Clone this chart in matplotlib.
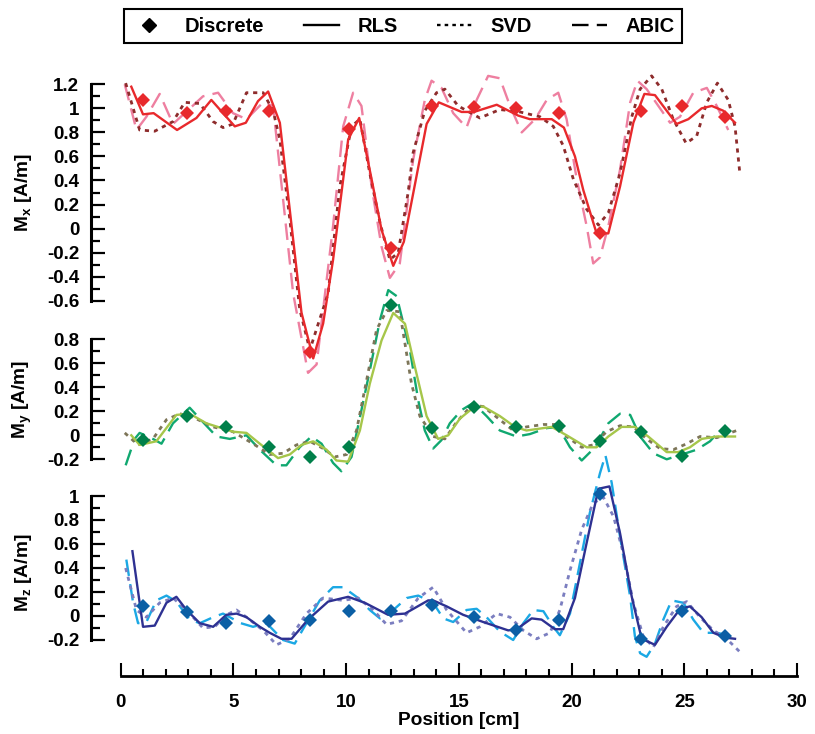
import numpy as np
import matplotlib
matplotlib.use('Agg')
import matplotlib.pyplot as plt
from matplotlib.ticker import FixedLocator
from matplotlib.lines import Line2D

plt.rcParams['font.family'] = ['Liberation Sans', 'DejaVu Sans']
plt.rcParams['font.weight'] = 'bold'
plt.rcParams['mathtext.fontset'] = 'custom'
plt.rcParams['mathtext.rm'] = 'Liberation Sans:bold'
plt.rcParams['mathtext.bf'] = 'Liberation Sans:bold'
plt.rcParams['mathtext.it'] = 'Liberation Sans:bold'
plt.rcParams['mathtext.default'] = 'bf'

# ---------------- data ----------------
disc_x = [0.99, 2.92, 4.69, 6.56, 8.39, 10.12, 11.97, 13.82, 15.67, 17.55, 19.43, 21.27, 23.07, 24.89, 26.81]
mx_disc = [1.07, 0.96, 0.98, 0.98, -1.03, 0.83, -0.16, 1.02, 1.01, 1.0, 0.96, -0.04, 0.98, 1.02, 0.93]
my_disc = [-0.04, 0.16, 0.07, -0.10, -0.18, -0.10, 1.09, 0.06, 0.24, 0.07, 0.08, -0.05, 0.03, -0.17, 0.04]
mz_disc = [0.08, 0.03, -0.06, -0.04, -0.03, 0.04, 0.04, 0.09, -0.01, -0.12, -0.03, 1.02, -0.19, 0.04, -0.17]

mx_rls_x = [0.47, 0.99, 1.46, 2.5, 3.36, 4.02, 5.06, 5.55, 6.09, 6.54, 7.06, 8.02, 8.54, 8.98, 9.42, 10.09, 10.58,
            11.13, 11.57, 12.09, 12.56, 13.57, 14.11, 15.12, 15.67, 16.68, 17.63, 18.15, 19.12, 19.66, 20.15,
            20.52, 21.11, 21.63, 22.15, 22.74, 23.23, 23.7, 24.66, 25.18, 25.77, 26.22, 26.73, 27.25]
mx_rls_y = [1.18, 0.95, 0.96, 0.82, 0.92, 1.07, 0.85, 0.88, 1.06, 1.14, 0.88, -0.70, -1.08, -0.79, -0.26, 0.74, 0.92,
            0.41, -0.01, -0.31, -0.11, 0.87, 1.05, 0.97, 0.97, 1.03, 0.94, 0.91, 0.91, 0.84, 0.60,
            0.32, -0.04, -0.04, 0.35, 0.88, 1.12, 1.11, 0.87, 0.91, 1.0, 1.02, 0.98, 0.88]
mx_svd_x = [0.22, 0.84, 1.51, 2.32, 2.84, 3.51, 4.1, 4.54, 4.98, 5.58, 6.32, 6.76, 7.06, 7.5, 7.94, 8.39, 8.8, 9.2,
            9.72, 10.24, 10.61, 11.05, 11.5, 11.94, 12.31, 12.75, 12.97, 13.49, 14.01, 14.38, 14.97, 15.93, 16.82,
            17.71, 18.6, 19.19, 19.63, 20.08, 20.67, 21.19, 21.63, 22.15, 22.67, 23.04, 23.55, 24.0, 24.51, 25.08,
            25.55, 26.0, 26.47, 26.95, 27.25, 27.47]
mx_svd_y = [1.21, 0.82, 0.81, 0.89, 1.05, 1.04, 0.89, 0.84, 0.87, 1.13, 1.13, 0.98, 0.74, 0.08, -0.67, -1.01, -0.77,
            -0.54, 0.35, 0.85, 0.91, 0.46, 0.05, -0.26, -0.20, 0.30, 0.63, 0.98, 1.13, 1.16, 1.02, 0.92, 0.99,
            0.97, 0.93, 0.85, 0.69, 0.41, 0.16, 0.03, 0.13, 0.46, 0.93, 1.16, 1.27, 1.16, 0.91, 0.71,
            0.77, 1.05, 1.21, 1.07, 0.85, 0.45]
mx_abic_x = [0.18, 0.7, 1.14, 1.73, 2.32, 3.65, 4.32, 4.98, 5.58, 6.32, 6.76, 7.65, 8.31, 8.69, 9.42, 9.87, 10.31,
             10.68, 11.13, 11.57, 11.94, 12.38, 12.97, 13.49, 13.79, 14.23, 14.75, 15.34, 15.79, 16.3, 16.82,
             17.27, 17.79, 18.38, 18.9, 19.41, 19.78, 20.23, 20.67, 20.96, 21.26, 21.63, 22.15, 22.6, 22.92,
             23.33, 23.85, 24.37, 24.81, 25.4, 26.0, 26.44, 26.95]
mx_abic_y = [1.2, 0.82, 0.93, 1.12, 0.87, 1.1, 1.13, 0.96, 0.91, 1.05, 1.02, -0.54, -1.2, -1.13, 0.02, 0.85, 1.13,
             1.02, 0.35, -0.15, -0.41, -0.29, 0.57, 1.07, 1.23, 1.17, 0.96, 0.84, 1.07, 1.27, 1.25,
             1.02, 0.8, 0.91, 1.07, 1.13, 0.91, 0.41, 0.02, -0.29, -0.24, 0.02, 0.49, 1.05, 1.23,
             1.16, 1.02, 0.88, 0.93, 1.13, 1.17, 1.02, 0.82]

my_rls_x = [0.47, 0.84, 1.58, 2.47, 3.06, 3.8, 4.98, 5.58, 6.17, 6.98, 7.5, 8.02, 8.54, 9.13, 9.57, 10.09, 10.61,
            11.05, 11.57, 12.09, 12.61, 13.05, 13.57, 14.08, 14.53, 15.05, 15.64, 16.08, 16.82, 17.49, 18.0,
            19.12, 19.78, 20.67, 21.11, 21.63, 22.22, 22.81, 23.4, 24.22, 24.73, 25.25, 25.77, 26.44, 27.25]
my_rls_y = [0.0, -0.08, -0.05, 0.17, 0.18, 0.10, 0.03, 0.02, -0.07, -0.19, -0.16, -0.08, -0.05, -0.12, -0.21, -0.22,
            0.04, 0.43, 0.79, 1.02, 0.93, 0.57, 0.16, -0.03, 0.0, 0.14, 0.23, 0.24, 0.16, 0.07, 0.04,
            0.07, 0.0, -0.10, -0.10, -0.01, 0.07, 0.07, -0.01, -0.14, -0.14, -0.10, -0.03, -0.01, -0.01]
my_svd_x = [0.18, 0.77, 1.43, 2.03, 2.62, 3.21, 4.1, 4.98, 5.87, 6.61, 7.2, 7.8, 8.39, 8.98, 9.5, 10.02, 10.46,
            10.91, 11.35, 11.8, 12.38, 12.9, 13.27, 13.86, 14.38, 14.9, 15.57, 16.08, 16.82, 17.41, 18.0, 18.75,
            19.26, 19.78, 20.45, 20.96, 21.55, 22.15, 22.74, 23.33, 23.92, 24.51, 25.11, 25.7, 26.44, 27.33]
my_svd_y = [0.02, -0.08, -0.03, 0.13, 0.18, 0.15, 0.07, 0.03, -0.07, -0.16, -0.15, -0.08, -0.05, -0.11, -0.18,
            -0.16, 0.04, 0.46, 0.88, 1.04, 1.03, 0.43, 0.16, -0.01, -0.03, 0.11, 0.25, 0.24, 0.13, 0.04, 0.07,
            0.09, 0.09, -0.01, -0.10, -0.08, 0.03, 0.08, 0.07, -0.03, -0.11, -0.12, -0.07, -0.01, -0.02, 0.04]
my_abic_x = [0.22, 0.62, 0.84, 1.43, 1.81, 2.32, 3.06, 3.65, 4.25, 4.84, 5.58, 6.17, 6.91, 7.35, 7.94, 8.46, 8.91,
             9.42, 9.79, 10.24, 11.05, 11.5, 11.87, 12.24, 12.83, 13.2, 13.49, 13.86, 14.23, 14.6, 15.12, 15.64,
             16.23, 16.82, 17.56, 18.15, 18.9, 19.41, 19.93, 20.45, 21.04, 21.63, 22.15, 22.6, 23.04, 23.63,
             24.22, 24.89, 25.55, 26.14, 26.58]
my_abic_y = [-0.25, -0.03, 0.02, -0.03, -0.07, 0.10, 0.23, 0.11, -0.01, -0.03, 0.0, -0.12, -0.25, -0.25, -0.10,
             -0.01, -0.07, -0.23, -0.30, -0.18, 0.54, 0.96, 1.21, 1.16, 0.71, 0.29, 0.04, -0.11, -0.04, 0.10,
             0.21, 0.27, 0.16, 0.04, -0.01, 0.01, 0.06, 0.07, -0.10, -0.21, -0.10, 0.10, 0.18, 0.17, -0.01,
             -0.15, -0.20, -0.16, -0.12, -0.05, 0.04]

mz_rls_x = [0.52, 0.99, 1.51, 2.03, 2.47, 2.92, 3.51, 4.1, 4.69, 5.14, 5.58, 6.17, 6.61, 7.13, 7.58, 8.31, 9.2,
            10.09, 10.83, 11.86, 12.61, 13.64, 13.86, 14.46, 15.19, 16.08, 17.19, 17.56, 18.23, 18.67, 19.26,
            19.63, 20.15, 20.67, 21.19, 21.68, 22.15, 22.67, 23.11, 23.7, 24.22, 24.82, 25.25, 25.77, 26.29,
            26.81, 27.25]
mz_rls_y = [0.54, -0.09, -0.08, 0.11, 0.16, 0.05, -0.06, -0.09, 0.01, 0.02, -0.01, -0.09, -0.14, -0.19, -0.19,
            -0.03, 0.12, 0.16, 0.11, 0.01, 0.02, 0.13, 0.13, 0.08, 0.01, -0.05, -0.12, -0.11, -0.02, -0.03,
            -0.11, -0.11, 0.15, 0.61, 1.06, 1.08, 0.69, 0.16, -0.19, -0.24, -0.09, 0.06, 0.08, -0.01, -0.14,
            -0.18, -0.19]
mz_svd_x = [0.22, 0.7, 1.14, 1.73, 2.32, 2.92, 3.65, 4.17, 4.69, 5.14, 5.58, 6.32, 6.91, 7.5, 8.24, 8.98, 9.87,
            10.53, 11.2, 11.79, 12.46, 13.2, 13.86, 14.46, 15.34, 15.93, 16.68, 17.27, 17.86, 18.45, 19.04,
            19.48, 19.93, 20.45, 20.96, 21.41, 21.86, 22.3, 22.74, 23.18, 23.63, 24.07, 24.66, 25.11, 25.7,
            26.29, 26.88, 27.47]
mz_svd_y = [0.40, 0.05, -0.01, 0.11, 0.15, 0.05, -0.10, -0.09, 0.01, 0.05, -0.01, -0.12, -0.24, -0.19, 0.02,
            0.15, 0.13, 0.15, 0.05, -0.07, -0.04, 0.15, 0.24, 0.05, -0.14, -0.09, 0.02, -0.01, -0.12, -0.19,
            -0.14, 0.05, 0.38, 0.72, 0.94, 0.99, 0.83, 0.52, 0.11, -0.17, -0.26, -0.09, 0.08, 0.12, -0.01,
            -0.12, -0.19, -0.30]
mz_abic_x = [0.25, 0.55, 0.77, 1.14, 1.58, 2.03, 2.47, 3.06, 3.51, 4.1, 4.54, 5.33, 5.87, 6.47, 7.2, 7.72, 8.24,
             8.83, 9.42, 9.87, 10.53, 11.05, 11.5, 12.09, 12.69, 13.2, 13.86, 14.31, 14.75, 15.34, 15.79, 16.23,
             16.82, 17.41, 17.86, 18.3, 18.75, 19.19, 19.48, 19.93, 20.37, 20.81, 21.26, 21.5, 21.78, 22.15,
             22.6, 22.81, 23.04, 23.33, 23.7, 24.07, 24.44, 24.96, 25.4, 25.85, 26.44, 26.95]
mz_abic_y = [0.47, 0.11, -0.06, -0.05, 0.13, 0.17, 0.12, -0.03, -0.06, -0.01, 0.02, -0.06, -0.09, -0.06, -0.20,
             -0.23, -0.06, 0.13, 0.24, 0.24, 0.15, 0.05, -0.02, 0.05, 0.15, 0.17, 0.11, -0.02, -0.05, 0.05, 0.06,
             -0.01, -0.13, -0.20, -0.06, 0.05, 0.04, -0.09, -0.16, 0.02, 0.44, 0.86, 1.19, 1.34, 1.11, 0.66,
             0.16, -0.17, -0.31, -0.34, -0.23, -0.03, 0.13, 0.11, -0.03, -0.14, -0.14, -0.16]

mx_ticks = [-0.6, -0.4, -0.2, 0, 0.2, 0.4, 0.6, 0.8, 1, 1.2]
mx_tick_labels = ['-0.6', '-0.4', '-0.2', '0', '0.2', '0.4', '0.6', '0.8', '1', '1.2']
my_ticks = [-0.2, 0, 0.2, 0.4, 0.6, 0.8]
my_tick_labels = ['-0.2', '0', '0.2', '0.4', '0.6', '0.8']
mz_ticks = [-0.2, 0, 0.2, 0.4, 0.6, 0.8, 1]
mz_tick_labels = ['-0.2', '0', '0.2', '0.4', '0.6', '0.8', '1']
x_ticks = [0, 5, 10, 15, 20, 25, 30]
x_tick_labels = ['0', '5', '10', '15', '20', '25', '30']

legend_labels = ['Discrete', 'RLS', 'SVD', 'ABIC']

# ---------------- layout ----------------
W, H = 815.0, 734.0
fig = plt.figure(figsize=(W / 100, H / 100), dpi=100)
X0_PX, X30_PX, SPINE_PX = 120.7, 797.0, 91.0
ppcm = (X30_PX - X0_PX) / 30.0
XLIM = ((SPINE_PX - X0_PX) / ppcm, 30.0)
LEFT = SPINE_PX / W
WIDTH = (X30_PX - SPINE_PX) / W

LW = 1.7
DOT = (1.5, 1.75)
DASH = (7.0, 3.5)
TICKFS = 13.5
LABFS = 13.8


def make_ax(top_px, bottom_px, ylim, bounds, ticks, labels, ylabel, label_y):
    ax = fig.add_axes([LEFT, 1 - bottom_px / H, WIDTH, (bottom_px - top_px) / H])
    ax.patch.set_visible(False)
    ax.set_xlim(*XLIM)
    ax.set_ylim(*ylim)
    for s in ['top', 'right']:
        ax.spines[s].set_visible(False)
    ax.spines['left'].set_linewidth(2.2)
    ax.spines['left'].set_bounds(*bounds)
    ax.yaxis.set_major_locator(FixedLocator(ticks))
    ax.set_yticklabels(labels, fontsize=TICKFS, fontweight='bold')
    ax.yaxis.set_minor_locator(FixedLocator(np.round(np.arange(bounds[0], bounds[1] + 0.001, 0.1), 2)))
    ax.tick_params(axis='y', which='major', direction='in', length=10, width=1.6, pad=8.5)
    ax.tick_params(axis='y', which='minor', direction='in', length=6.5, width=1.6)
    ax.set_ylabel(ylabel, fontsize=LABFS, fontweight='bold')
    ax.yaxis.set_label_coords(-0.0807, label_y)
    return ax


ax_x = make_ax(84.3, 300.7, (-0.6, 1.2), (-0.6, 1.2), mx_ticks, mx_tick_labels, r'M$_\mathbf{x}$ [A/m]', 0.5)
ax_y = make_ax(339.3, 459.3, (-0.2, 0.8), (-0.2, 0.8), my_ticks, my_tick_labels, r'M$_\mathbf{y}$ [A/m]', 0.5)
ax_z = make_ax(496.0, 676.0, (-0.5, 1.0), (-0.2, 1.0), mz_ticks, mz_tick_labels, r'M$_\mathbf{z}$ [A/m]', 0.572)

for ax in (ax_x, ax_y):
    ax.spines['bottom'].set_visible(False)
    ax.tick_params(axis='x', which='both', bottom=False, labelbottom=False)

ax_z.spines['bottom'].set_linewidth(2.0)
ax_z.spines['bottom'].set_bounds(0, 30)
ax_z.xaxis.set_major_locator(FixedLocator(x_ticks))
ax_z.set_xticklabels(x_tick_labels, fontsize=TICKFS, fontweight='bold')
ax_z.xaxis.set_minor_locator(FixedLocator(list(range(0, 31))))
ax_z.tick_params(axis='x', which='major', direction='in', length=9.5, width=1.5, pad=13)
ax_z.tick_params(axis='x', which='minor', direction='in', length=5, width=1.5)
ax_z.set_xlabel('Position [cm]', fontsize=LABFS, fontweight='bold')
ax_z.xaxis.set_label_coords((458.5 - SPINE_PX) / (X30_PX - SPINE_PX), -0.202)

series = [
    (ax_x, mx_rls_x, mx_rls_y, mx_svd_x, mx_svd_y, mx_abic_x, mx_abic_y, mx_disc,
     '#E8292C', '#8E2C2C', '#EE7FA0', '#E8292C'),
    (ax_y, my_rls_x, my_rls_y, my_svd_x, my_svd_y, my_abic_x, my_abic_y, my_disc,
     '#A6C64A', '#7D7558', '#10A870', '#00804A'),
    (ax_z, mz_rls_x, mz_rls_y, mz_svd_x, mz_svd_y, mz_abic_x, mz_abic_y, mz_disc,
     '#2E3192', '#7B7EC0', '#1BA8E4', '#0B5FA5'),
]

for (ax, rx, ry, sx, sy, ax_, ay, dy, c_r, c_s, c_a, c_d) in series:
    ax.plot(ax_, ay, color=c_a, lw=LW, dashes=DASH, clip_on=False, zorder=3)
    ax.plot(sx, sy, color=c_s, lw=LW + 0.3, dashes=DOT, clip_on=False, zorder=4)
    ax.plot(rx, ry, color=c_r, lw=LW, clip_on=False, zorder=5)
    ax.plot(disc_x, dy, linestyle='none', marker='D', markersize=7, color=c_d,
            markeredgewidth=0, clip_on=False, zorder=6)

handles = [
    Line2D([], [], linestyle='none', marker='D', markersize=7, color='black'),
    Line2D([], [], color='black', lw=LW),
    Line2D([], [], color='black', lw=LW, dashes=DOT),
    Line2D([], [], color='black', lw=LW, dashes=DASH),
]
leg = fig.legend(handles, legend_labels, loc='upper left',
                 bbox_to_anchor=(124.0 / W, 1 - 45.5 / H, 558.0 / W, 36.5 / H), mode='expand',
                 ncol=4, frameon=True, fancybox=False, edgecolor='black', framealpha=1,
                 handlelength=1.75, handletextpad=0.9, columnspacing=1.5, borderpad=0.38,
                 borderaxespad=0, prop={'weight': 'bold', 'size': 14.5})
leg.get_frame().set_linewidth(1.5)

fig.savefig('out.png', dpi=100)
